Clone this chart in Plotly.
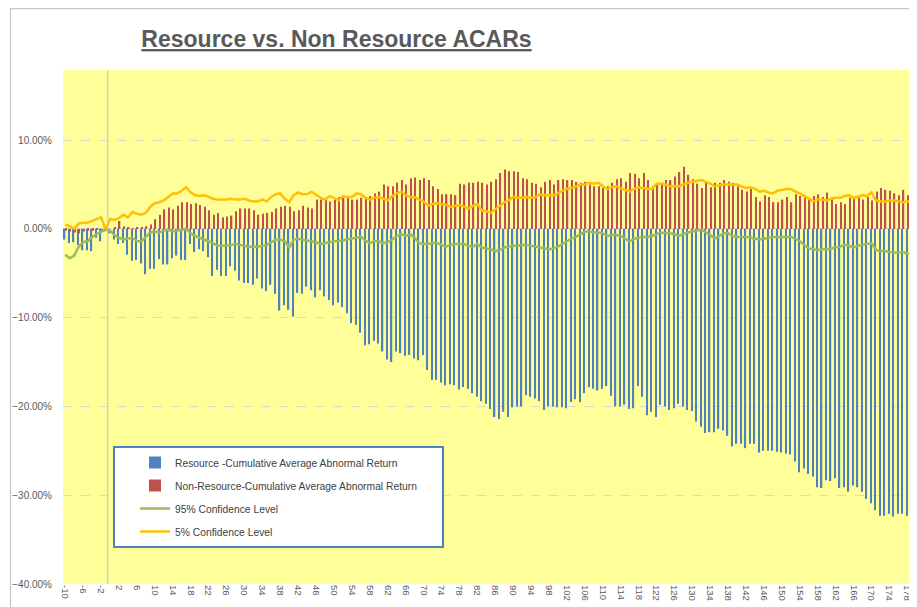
import plotly.graph_objects as go

# Event days (categories)
days = list(range(-10, 181))
tick_days = list(range(-10, 181, 4))

# Values in percent
resource_car = [
    -1.2, -1.6, -1.5, -1.8, -2.4, -2.4, -2.5, -1.0, -1.4, -0.2,
    -0.5, -1.2, -1.7,
    -1.6, -2.9, -3.6, -3.5, -3.9, -5.1, -4.5, -4.5, -3.4, -4.0,
    -4.0, -3.3, -3.0, -3.5, -3.5, -1.7, -2.6, -2.3, -2.5, -3.2,
    -5.3, -4.6, -5.3, -5.3, -4.2, -4.7, -5.8, -6.1, -6.1, -6.3,
    -5.6, -6.7, -7.0, -6.3, -7.3, -9.2,
    -8.6, -9.1, -9.9, -7.2, -7.3, -6.5, -6.9, -7.7, -6.9, -7.6,
    -8.0, -8.6, -8.3, -8.8, -9.5, -10.6, -10.8, -11.7, -13.1, -13.0,
    -12.6, -12.9, -13.8, -14.7, -15.0, -13.8, -14.0, -14.3, -14.2, -14.6,
    -14.8, -14.2, -15.9, -17.0, -17.0, -17.3, -17.6, -17.5, -17.6, -18.1,
    -17.8, -18.0, -18.5, -18.9, -19.4, -19.7, -20.3, -21.2,
    -21.4, -20.6, -21.2, -20.1, -20.0, -20.0, -18.7, -18.9, -19.1, -19.4,
    -20.4, -20.0, -20.0, -20.1, -20.1, -20.2, -19.5, -19.2, -19.5, -18.5,
    -17.8, -18.0, -18.2,
    -18.0, -17.7, -18.8, -20.0, -20.0, -19.8, -20.3, -20.2, -17.7, -18.9,
    -21.0, -20.6, -21.2, -19.8, -20.0, -20.4, -20.2, -19.7, -20.0, -20.4,
    -20.5, -21.7, -22.3, -23.0, -22.9, -22.9, -22.5, -22.7, -23.3, -24.5,
    -24.2, -24.2, -24.7, -24.2, -24.2, -25.2, -25.0, -25.0, -25.0, -25.1,
    -25.2, -25.3, -25.4, -26.2, -27.4, -27.0, -27.6, -27.9, -29.1, -29.2,
    -28.3, -28.4, -28.1, -29.2, -29.1, -29.6, -28.9, -29.1, -29.6, -30.4,
    -30.9, -31.7, -32.3, -32.3, -32.1, -32.4, -32.1, -32.1, -32.3, -33.0,
    -32.1,
]

non_resource_car = [
    -0.2, -0.3, -0.4, -0.5, -0.3, -0.2, -0.2, -0.1, -0.3, 0.1,
    0.0, 0.2, 0.9,
    0.3, 0.2, 0.1, 0.2, 0.2, 0.3, 0.5, 1.1, 1.6, 2.2,
    2.4, 2.2, 2.6, 3.0, 3.0, 2.8, 2.9, 2.7, 2.5, 2.1,
    1.6, 1.8, 1.3, 1.4, 1.5, 2.0, 2.3, 2.3, 2.3, 2.1,
    1.6, 1.7, 1.8, 1.9, 2.3, 2.5,
    2.6, 2.5, 2.0, 2.1, 2.6, 2.4, 2.3, 3.3, 3.3, 3.5,
    3.1, 3.3, 3.6, 3.5, 3.6, 3.3, 3.3, 3.5, 3.6, 3.7,
    4.0, 4.2, 5.0, 4.8, 4.8, 5.2, 5.5, 5.0, 5.7, 5.8,
    5.5, 5.7, 5.5, 4.8, 4.5, 3.9, 3.9, 3.9, 3.8, 5.1,
    5.0, 5.2, 5.2, 5.3, 5.2, 5.0, 5.3, 5.6,
    6.3, 6.7, 6.5, 6.5, 6.4, 5.7, 5.6, 5.2, 5.1, 4.7,
    5.3, 5.5, 5.0, 5.5, 5.6, 5.5, 5.5, 5.3, 5.2, 5.3,
    5.0, 4.8, 4.8,
    4.6, 4.8, 5.2, 5.6, 5.7, 5.3, 6.3, 6.2, 5.7, 6.3,
    5.5, 4.8, 5.0, 5.0, 5.5, 5.5, 5.9, 6.4, 7.0, 6.1,
    5.6, 5.1, 4.6, 5.2, 4.7, 5.2, 5.2, 5.5, 5.3, 5.2,
    4.8, 4.4, 4.2, 4.5, 3.6, 3.1, 3.8, 3.6, 3.0, 3.0,
    3.3, 3.6, 3.0, 3.9, 3.7, 3.5, 3.3, 3.7, 3.9, 3.6,
    4.1, 3.5, 2.8, 3.0, 2.8, 3.5, 3.6, 3.8, 3.3, 3.6,
    3.2, 4.2, 4.6, 4.4, 4.3, 4.0, 3.8, 4.4, 3.8, 4.1,
    4.2,
]

conf_95 = [
    -2.9, -3.3, -3.0, -2.0, -1.5, -1.4, -0.9, -0.6, -0.3, -0.1,
    -0.2, -0.7, -1.0, -1.2, -1.1, -1.0, -1.4, -1.4, -0.9, -0.4,
    -0.3, -0.4, -0.2, -0.1, -0.3, -0.2, -0.1, 0.0, -0.5, -0.8,
    -1.0, -1.2, -1.4, -1.6, -1.9, -1.9, -1.9, -1.8, -1.7, -1.8,
    -1.9, -2.0, -2.0, -2.0, -1.9, -1.8, -1.5, -1.2, -1.2, -1.4,
    -2.1, -1.2, -1.1, -1.2, -1.3, -1.4, -1.5, -1.7, -1.6, -1.5,
    -1.4, -1.4, -1.3, -1.2, -1.1, -1.0, -0.9, -1.3, -1.6, -1.4,
    -1.4, -1.6, -1.5, -1.2, -0.8, -0.6, -0.8, -0.6, -1.0, -1.6,
    -1.7, -1.7, -1.6, -1.6, -1.8, -2.0, -1.8, -1.7, -1.7, -1.7,
    -1.9, -2.0, -1.7, -2.1, -2.2, -2.3, -2.5, -2.4, -2.1, -2.0,
    -1.9, -1.9, -1.8, -1.8, -1.9, -2.0, -2.1, -2.2, -2.3, -2.2,
    -2.0, -1.7, -1.4, -1.1, -0.9, -0.6, -0.3, -0.3, -0.4, -0.4,
    -0.5, -0.8, -0.7, -0.7, -0.8, -1.1, -1.4, -1.1, -1.0, -0.9,
    -0.9, -0.8, -0.6, -0.4, -0.5, -0.5, -0.6, -0.8, -0.6, -0.4,
    -0.3, -0.2, -0.1, -0.4, -0.7, -1.1, -0.8, -0.5, -0.5, -0.8,
    -0.9, -0.9, -0.9, -1.0, -1.1, -1.2, -1.1, -1.0, -0.9, -0.9,
    -0.9, -0.9, -0.9, -1.1, -1.4, -1.8, -2.2, -2.3, -2.4, -2.3,
    -2.3, -2.2, -2.1, -2.0, -1.8, -1.9, -2.1, -1.9, -1.8, -1.7,
    -1.6, -2.4, -2.5, -2.5, -2.6, -2.7, -2.7, -2.6, -2.8, -2.8,
    -2.8,
]

conf_5 = [
    0.5, 0.3, 0.0, 0.6, 0.7, 0.7, 0.9, 1.1, 1.3, 0.0,
    1.1, 1.0, 1.2, 1.6, 1.3, 1.9, 1.7, 1.6, 1.8, 2.5,
    2.9, 3.0, 3.2, 3.6, 4.0, 4.0, 4.3, 4.7, 4.1, 3.8,
    3.7, 3.8, 3.6, 3.4, 3.3, 3.3, 3.3, 3.4, 3.3, 3.3,
    3.4, 3.2, 3.1, 3.1, 3.3, 3.1, 3.6, 3.9, 4.0, 3.4,
    3.0, 3.8, 4.1, 3.9, 3.9, 4.2, 3.8, 3.5, 3.3, 3.7,
    3.5, 3.2, 3.7, 3.6, 3.6, 4.0, 3.9, 3.5, 3.3, 3.5,
    3.6, 3.4, 3.2, 3.7, 4.0, 4.2, 3.8, 3.6, 3.6, 3.3,
    3.1, 2.6, 2.8, 2.9, 2.8, 2.7, 2.5, 2.6, 2.7, 2.5,
    2.3, 2.6, 2.8, 2.1, 2.0, 1.8, 2.2, 2.6, 3.0, 3.2,
    3.6, 3.5, 3.5, 3.6, 3.5, 3.6, 3.9, 3.8, 3.8, 3.8,
    4.0, 4.3, 4.5, 4.6, 4.8, 5.0, 5.0, 5.2, 5.1, 5.2,
    4.8, 4.5, 4.7, 4.8, 4.6, 4.4, 4.2, 4.5, 4.7, 4.6,
    4.5, 4.5, 5.1, 5.1, 5.0, 4.8, 4.8, 4.8, 5.0, 5.2,
    5.3, 5.4, 5.5, 5.3, 5.1, 4.8, 4.9, 5.0, 5.0, 5.0,
    5.0, 4.8, 4.6, 4.7, 4.5, 4.2, 4.3, 4.1, 4.0, 4.3,
    4.4, 4.5, 4.5, 4.2, 4.0, 3.7, 3.4, 3.1, 3.3, 3.3,
    3.2, 3.4, 3.5, 3.5, 3.7, 3.8, 3.5, 3.6, 3.8, 3.7,
    4.1, 3.2, 3.1, 3.1, 3.2, 3.2, 3.1, 3.0, 3.1, 3.1,
    3.0,
]

y_ticks = [0.10, 0.0, -0.10, -0.20, -0.30, -0.40]

def frac(vals):
    return [v / 100.0 for v in vals]

BLUE = "#4F81BD"
RED = "#C0504D"
GREEN = "#9BBB59"
ORANGE = "#FFC000"
TXT = "#595959"
NB = "\u00a0"

fig = go.Figure()
fig.add_trace(go.Bar(x=days, y=frac(resource_car), name="Resource -Cumulative Average Abnormal Return",
                     marker=dict(color=BLUE, line=dict(width=0)), legendgroup="a"))
fig.add_trace(go.Bar(x=days, y=frac(non_resource_car),
                     name="Non-Resource-Cumulative Average Abnormal Return" + NB * 7,
                     marker=dict(color=RED, line=dict(width=0)), legendgroup="b"))
fig.add_trace(go.Scatter(x=days, y=frac(conf_95), mode="lines", name="95% Confidence Level",
                         line=dict(color=GREEN, width=2.5), legendgroup="c"))
fig.add_trace(go.Scatter(x=days, y=frac(conf_5), mode="lines", name="5% Confidence Level",
                         line=dict(color=ORANGE, width=2.5), legendgroup="d"))

# page body has an 8px margin: figure is 909x599, positioned at (8, 8)
W, H = 909, 599
L, T, B = 55, 62, 23
PW, PH = W - L, H - T - B   # 854 x 514

fig.update_layout(
    width=W, height=H,
    margin=dict(l=L, r=0, t=T, b=B),
    paper_bgcolor="white",
    plot_bgcolor="#FFFF99",
    font=dict(family="Liberation Sans, Arial, sans-serif", size=10, color=TXT),
    barmode="group", bargap=0.42, bargroupgap=0,
    title=dict(
        text="<b>Resource vs. Non Resource ACARs</b>",
        font=dict(family="Liberation Sans, Arial, sans-serif",
                  size=23, color=TXT, lineposition="under"),
        xref="container", x=328.5 / W, xanchor="center",
        yref="container", y=1 - 31 / H, yanchor="middle",
    ),
    showlegend=True,
    legend=dict(
        x=(113 - 63) / PW, y=(584 - 446) / PH, xanchor="left", yanchor="top",
        bgcolor="white", bordercolor="#4F81BD", borderwidth=2,
        font=dict(size=10.3, color="#404040"),
        tracegroupgap=4, indentation=20, traceorder="grouped",
    ),
    xaxis=dict(
        range=[-10.5, 180.15], tickmode="array", tickvals=tick_days,
        ticktext=[str(d) for d in tick_days], tickangle=90,
        showgrid=False, zeroline=False, showline=False, ticks="",
        tickfont=dict(size=9.5, color=TXT),
    ),
    yaxis=dict(
        range=[-0.40, 0.179], tickmode="array", tickvals=y_ticks, tickformat=".2%",
        showgrid=True, gridcolor="#D9D9D9", griddash="dash", gridwidth=1,
        zeroline=True, zerolinecolor="#D0D0D0", zerolinewidth=1,
        showline=False, ticks="", ticklabelstandoff=10,
        tickfont=dict(size=10, color=TXT),
    ),
    shapes=[
        # value axis crossing line at day 0
        dict(type="line", xref="x", yref="paper", x0=-0.5, x1=-0.5, y0=0, y1=1,
             line=dict(color="#BFBFBF", width=1), layer="above"),
        # chart area border (left and top)
        dict(type="line", xref="paper", yref="paper", x0=-52.5 / PW, x1=-52.5 / PW,
             y0=-B / PH, y1=(PH + T - 0.5) / PH, line=dict(color="#C8C8C8", width=1.3)),
        dict(type="line", xref="paper", yref="paper", x0=-52.5 / PW, x1=1.0,
             y0=(PH + T - 0.5) / PH, y1=(PH + T - 0.5) / PH, line=dict(color="#C8C8C8", width=1.3)),
    ],
)

fig.write_html("out.html")
